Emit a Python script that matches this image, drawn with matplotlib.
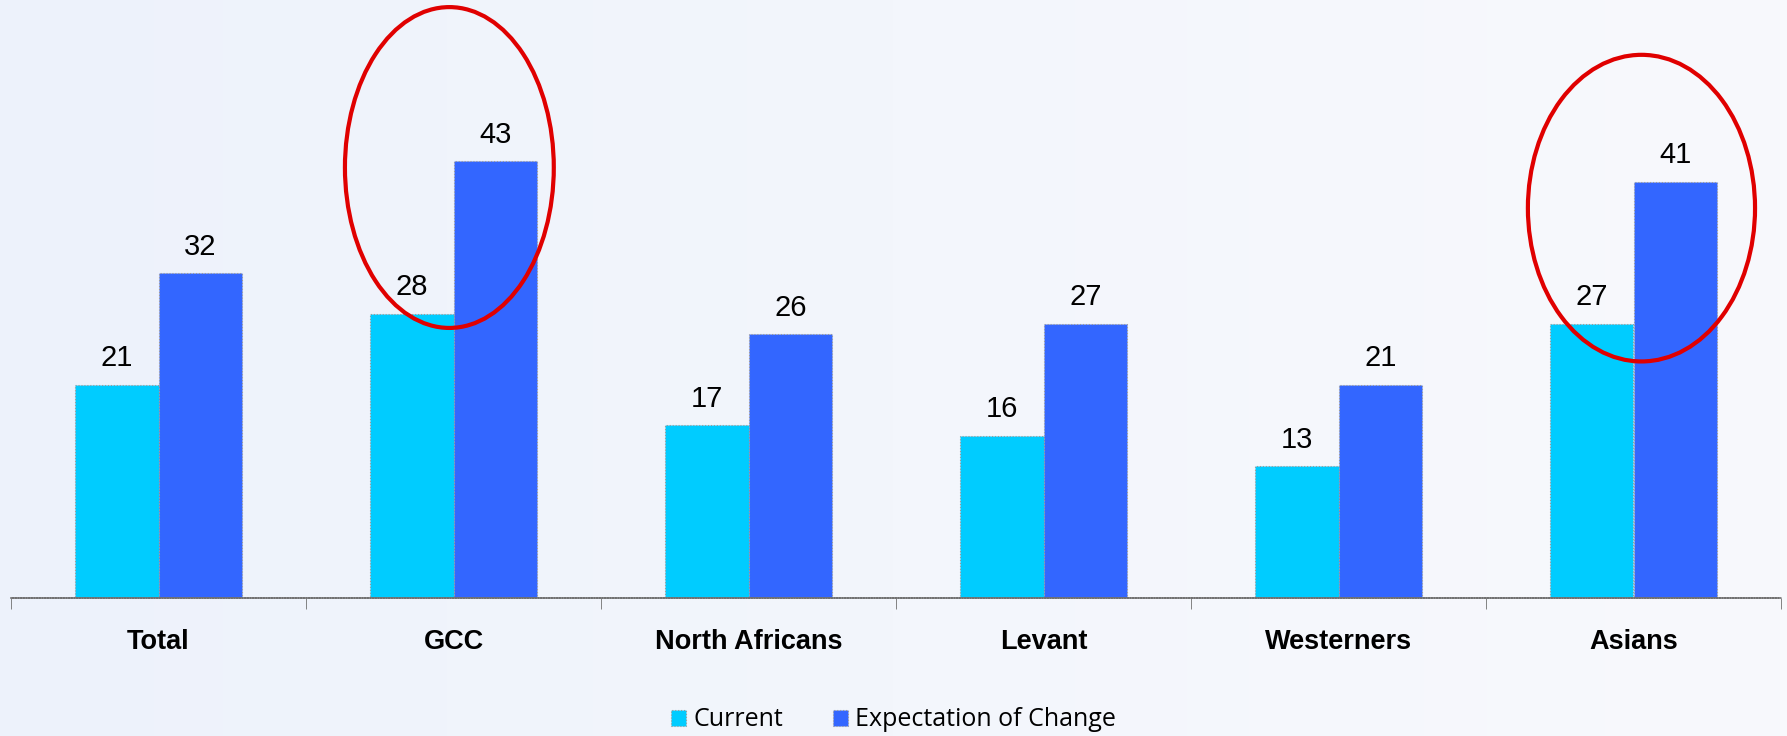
import matplotlib.pyplot as plt
from matplotlib.patches import Ellipse
from matplotlib.colors import LinearSegmentedColormap
import numpy as np

# datos del grafico
categories = ['Total', 'GCC', 'North Africans', 'Levant', 'Westerners', 'Asians']
current = [21, 28, 17, 16, 13, 27]
expectation = [32, 43, 26, 27, 21, 41]
series_names = ['Current', 'Expectation of Change']
# grupos marcados con elipse roja: (categoria, desplazamiento x, centro y, ancho, alto)
highlights = [('GCC', -0.014, 42.4, 0.708, 31.6),
              ('Asians', 0.027, 38.4, 0.77, 30.2)]

fig = plt.figure(figsize=(17.87, 7.36), dpi=100)
fig.patch.set_facecolor('#f2f6fc')

# fondo degradado suave
bg = fig.add_axes([0, 0, 1, 1], zorder=-1)
cmap = LinearSegmentedColormap.from_list('bg', ['#edf2fb', '#f3f6fc', '#f8f9fc'])
bg.imshow(np.linspace(0, 1, 256)[None, :], aspect='auto', cmap=cmap, extent=(0, 1, 0, 1))
bg.axis('off')

ax = fig.add_axes([11 / 1787, 138 / 736, 1770 / 1787, 598 / 736])
ax.set_facecolor('none')

x = np.arange(len(categories))
w = 0.284
b1 = ax.bar(x - w / 2, current, w, color='#00ccff', edgecolor='#9a9a9a',
            linewidth=0.8, linestyle=':', label=series_names[0])
b2 = ax.bar(x + w / 2, expectation, w, color='#3366ff', edgecolor='#9a9a9a',
            linewidth=0.8, linestyle=':', label=series_names[1])

# etiquetas de valores
for bars in (b1, b2):
    ax.bar_label(bars, padding=9, fontsize=21, family='Liberation Sans')

ax.set_xlim(-0.5, len(categories) - 0.5)
ax.set_ylim(0, 58.9)
ax.set_yticks([])
for s in ['top', 'left', 'right']:
    ax.spines[s].set_visible(False)
ax.spines['bottom'].set_color('#707070')
ax.spines['bottom'].set_linewidth(1.2)
ax.spines['bottom'].set_linestyle((0, (1, 0.6)))

ax.set_xticks(x)
ax.set_xticklabels(categories, fontsize=19.5, fontweight='bold', family='Liberation Sans')
ax.tick_params(axis='x', which='major', length=0, pad=22)
ax.set_xticks(np.arange(-0.5, len(categories)), minor=True)
ax.tick_params(axis='x', which='minor', length=8, color='#707070', direction='out')

# elipses rojas
for cat, dx, cy, ew, eh in highlights:
    i = categories.index(cat)
    ell = Ellipse((i + dx, cy), ew, eh, fill=False, edgecolor='#e00000',
                  linewidth=3, clip_on=False, zorder=5)
    ax.add_patch(ell)

fig.legend(loc='center', bbox_to_anchor=(0.5, 16 / 736), ncol=2, frameon=False,
           prop={'family': 'Open Sans', 'size': 18}, handlelength=0.6,
           handleheight=0.6, handletextpad=0.3, columnspacing=2.0)

plt.savefig('out.png', dpi=100, facecolor=fig.get_facecolor())
plt.close()
